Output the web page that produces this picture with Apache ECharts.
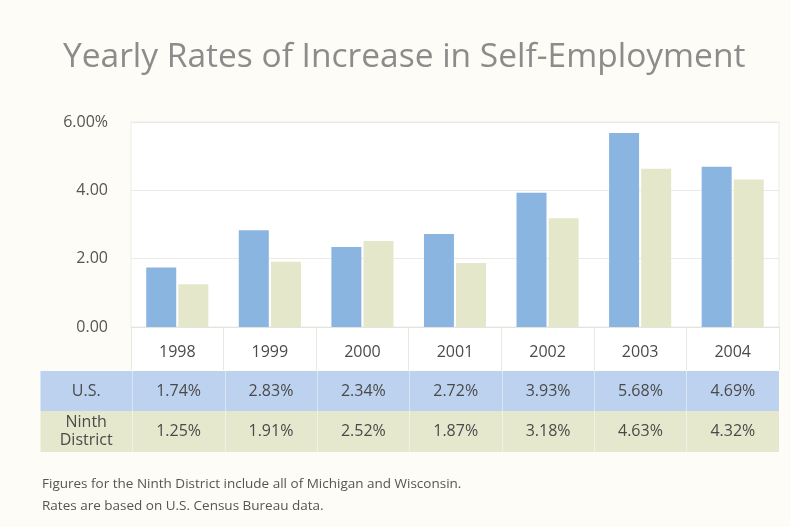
<!DOCTYPE html>
<html><head><meta charset="utf-8">
<script src="https://cdn.jsdelivr.net/npm/echarts@6/dist/echarts.min.js"></script>
<style>html,body{margin:0;padding:0;background:#fdfcf7;}#c{width:791px;height:527px;}</style>
</head><body><div id="c"></div>
<script>
var years = ['1998','1999','2000','2001','2002','2003','2004'];
var usValues = [1.74, 2.83, 2.34, 2.72, 3.93, 5.68, 4.69];
var ninthValues = [1.25, 1.91, 2.52, 1.87, 3.18, 4.63, 4.32];
var rowLabels = ['U.S.', 'Ninth\nDistrict'];
var titleText = 'Yearly Rates of Increase in Self-Employment';
var notes = ['Figures for the Ninth District include all of Michigan and Wisconsin.', 'Rates are based on U.S. Census Bureau data.'];

var FONT = '"Open Sans",sans-serif';
var fmt = function(v){ return v.toFixed(2) + '%'; };
var chart = echarts.init(document.getElementById('c'), null, {renderer:'canvas'});

function rowAxis(gi, label, vals){
  return {
    type:'category', gridIndex:gi, data:[label].concat(vals.map(fmt)), position:'bottom',
    axisLine:{show:false}, axisTick:{show:false},
    splitLine:{show:true, interval:0, lineStyle:{color:'rgba(255,255,255,0.45)', width:1}},
    axisLabel:{interval:0, margin:gi===2?-20:-20.5, verticalAlign:'middle', color:'#4a4a4a', fontSize:16, fontFamily:FONT, lineHeight:18}
  };
}

chart.setOption({
  backgroundColor:'#fdfcf7',
  animation:false,
  title:[{
    text:titleText, left:58, top:35,
    textStyle:{color:'#8c8c8c', fontSize:33.5, fontWeight:'normal', fontFamily:FONT}
  },{
    text:notes.join('\n'), left:37, top:468,
    textStyle:{color:'#555', fontSize:13.5, fontWeight:'normal', fontFamily:FONT, lineHeight:22}
  }],
  grid:[
    {left:131, top:122, width:648, height:205, show:true, backgroundColor:'#ffffff', borderColor:'#ececE6', borderWidth:1},
    {left:131, top:327, width:648, height:43, show:true, backgroundColor:'#ffffff', borderWidth:0},
    {left:40, top:371, width:739, height:40, show:true, backgroundColor:'#bcd2ef', borderWidth:0},
    {left:40, top:411, width:739, height:41, show:true, backgroundColor:'#e6e8cd', borderWidth:0}
  ],
  xAxis:[
    {type:'category', gridIndex:0, data:years, axisLine:{show:true, lineStyle:{color:'#e4e4de'}}, axisTick:{show:false}, axisLabel:{show:false}},
    {type:'category', gridIndex:1, data:years, position:'bottom', axisLine:{show:false}, axisTick:{show:false},
      splitLine:{show:true, interval:0, lineStyle:{color:'#e8e8e2'}},
      axisLabel:{interval:0, margin:-18, verticalAlign:'middle', color:'#4a4a4a', fontSize:16, fontFamily:FONT}},
    rowAxis(2, rowLabels[0], usValues),
    rowAxis(3, rowLabels[1], ninthValues)
  ],
  yAxis:[
    {type:'value', gridIndex:0, min:0, max:6, interval:2,
      axisLine:{show:false}, axisTick:{show:false},
      splitLine:{lineStyle:{color:'#ebebe6'}},
      axisLabel:{margin:23, color:'#555', fontSize:16, fontFamily:FONT,
        formatter:function(v){ return v===6 ? fmt(v) : v.toFixed(2); }}},
    {type:'value', gridIndex:1, show:false},
    {type:'value', gridIndex:2, show:false},
    {type:'value', gridIndex:3, show:false}
  ],
  series:[
    {name:'U.S.', type:'bar', xAxisIndex:0, yAxisIndex:0, data:usValues, barWidth:30, barGap:'7%', itemStyle:{color:'#8bb5e1'}},
    {name:'Ninth District', type:'bar', xAxisIndex:0, yAxisIndex:0, data:ninthValues, barWidth:30, barGap:'7%', itemStyle:{color:'#e5e7ca'}}
  ]
});
</script></body></html>
